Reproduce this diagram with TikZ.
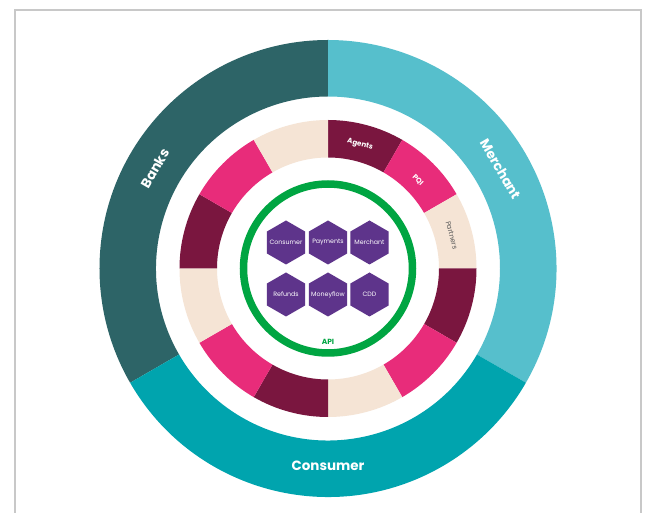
\documentclass[tikz,border=0pt]{standalone}
\usepackage{fontspec}
\setmainfont{Poppins}
\usetikzlibrary{shapes.geometric}
\definecolor{banksc}{HTML}{2D6467}
\definecolor{merchc}{HTML}{56BFCC}
\definecolor{consc}{HTML}{00A4AE}
\definecolor{darkseg}{HTML}{7A163F}
\definecolor{pinkseg}{HTML}{E82C7A}
\definecolor{beigeseg}{HTML}{F5E4D5}
\definecolor{apigreen}{HTML}{00A542}
\definecolor{hexpurple}{HTML}{5E348B}
\definecolor{framegray}{HTML}{C8C8C8}
\tikzset{
  hexbox/.style={regular polygon, regular polygon sides=6, shape border rotate=30,
    fill=hexpurple, minimum size=44bp, inner sep=0pt,
    label={[text=white, inner sep=0pt, font=\fontsize{6.3}{7}\selectfont]center:#1}},
  ringlabel/.style={text=white, font=\fontsize{13.5}{14}\selectfont\bfseries, inner sep=0pt},
  seglabel/.style={font=\fontsize{7.2}{8}\selectfont\bfseries, inner sep=0pt},
}
\newcommand{\annseg}[5]{% color, start, end, inner r, outer r
  \fill[#1] (#2:#5) arc[start angle=#2, end angle=#3, radius=#5]
    -- (#3:#4) arc[start angle=#3, end angle=#2, radius=#4] -- cycle;}
\begin{document}
\begin{tikzpicture}[x=1bp,y=1bp]
\useasboundingbox (-328,-244.5) rectangle (317,268.5);
\fill[white] (-328,-244.5) rectangle (317,268.5);
% frame
\draw[framegray, line width=1.5bp] (-313,-260) -- (-313,258.5) -- (313,258.5) -- (313,-260);
% outer ring
\annseg{banksc}{90}{210}{172}{228.5}
\annseg{merchc}{-30}{90}{172}{228.5}
\annseg{consc}{210}{330}{172}{228.5}
% middle ring
\foreach \a/\c in {90/darkseg,60/pinkseg,30/beigeseg,0/darkseg,-30/pinkseg,-60/beigeseg,
                   -90/darkseg,-120/pinkseg,-150/beigeseg,180/darkseg,150/pinkseg,120/beigeseg}{
  \pgfmathsetmacro{\b}{\a-30}
  \annseg{\c}{\b}{\a}{111}{148.5}
}
% green ring
\draw[apigreen, line width=7.5bp] (0,0) circle[radius=84.5];
% labels outer
\node[ringlabel, rotate=60] (banks) at (150:200) {Banks};
\node[ringlabel, rotate=-60] (merchant) at (30:199) {Merchant};
\node[ringlabel] (consumer) at (-90:197) {Consumer};
% segment labels
\node[seglabel, text=white, rotate=-15] (agents) at (75.5:128) {Agents};
\node[seglabel, text=white, rotate=-45] (pqi) at (44.5:126) {PQI};
\node[seglabel, text=black!65, font=\fontsize{7}{8}\selectfont, rotate=-75] (partners) at (15:128) {Partners};
% hexagons
\node[hexbox=Consumer] (hconsumer) at (-42,26) {};
\node[hexbox=Payments] (hpayments) at (0,26) {};
\node[hexbox=Merchant] (hmerchant) at (41.5,26) {};
\node[hexbox=Refunds] (hrefunds) at (-42,-26) {};
\node[hexbox=Moneyflow] (hmoneyflow) at (0,-26) {};
\node[hexbox=CDD] (hcdd) at (41.5,-26) {};
% API
\node[text=apigreen, font=\fontsize{7.5}{8}\selectfont\bfseries, inner sep=0pt] (api) at (0,-73) {API};
\end{tikzpicture}
\end{document}
